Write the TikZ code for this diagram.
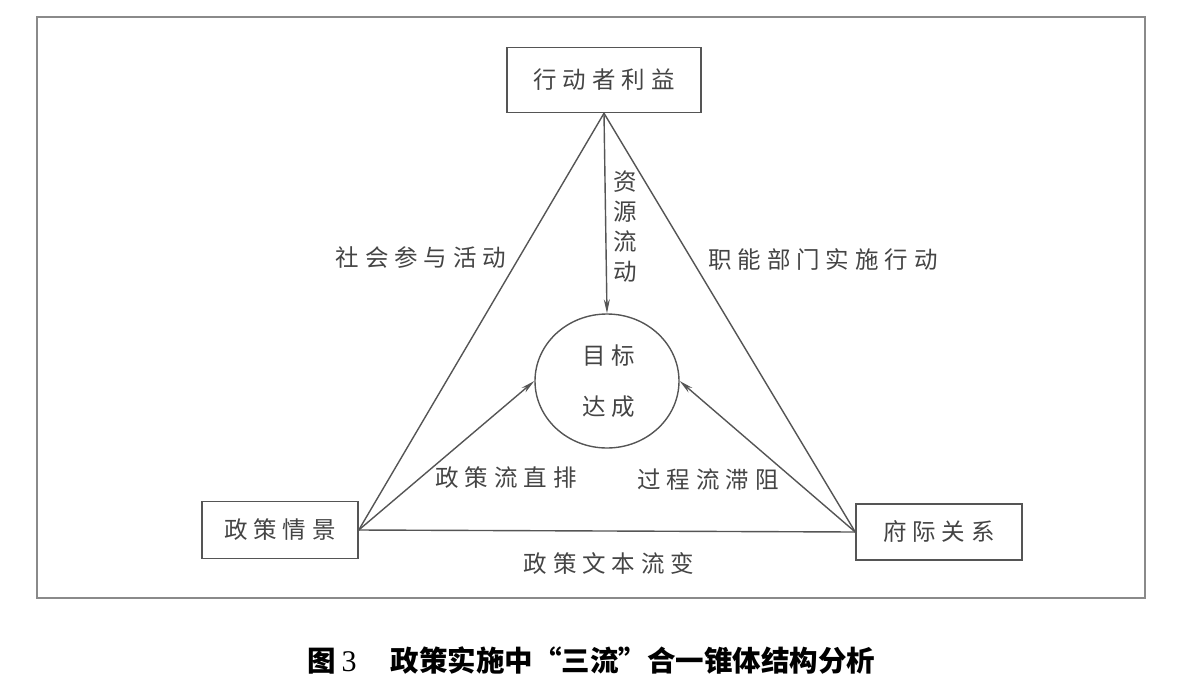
\documentclass[tikz,border=0pt]{standalone}
\usepackage{fontspec}
\usetikzlibrary{arrows.meta,shapes.geometric}
\newfontfamily\cjk{Noto Sans CJK SC}
\newfontfamily\capnum{Liberation Serif}
\definecolor{inkgray}{HTML}{444444}
\definecolor{linegray}{HTML}{555555}
\definecolor{framegray}{HTML}{8A8A8A}
\tikzset{
  lbl/.style={text=inkgray,font=\cjk\fontsize{23.5}{28}\selectfont\addfontfeature{LetterSpace=25},inner sep=0pt},
  boxnode/.style={draw=linegray,line width=1.5pt,fill=white,text=inkgray,font=\cjk\fontsize{23.5}{28}\selectfont\addfontfeature{LetterSpace=25},inner sep=0pt},
  conn/.style={draw=linegray,line width=1.4pt},
  arr/.style={conn,-{Stealth[length=14pt,width=6pt]}},
}
\begin{document}
\begin{tikzpicture}[x=1pt,y=-1pt]
\useasboundingbox (0,0) rectangle (1181,686);
\draw[framegray,line width=1.6pt] (37,17) rectangle (1145,598);
% nodes
\node[boxnode,minimum width=194pt,minimum height=65pt] (top) at (604,80) {行动者利益};
\node[boxnode,minimum width=156pt,minimum height=57pt] (left) at (280,530) {政策情景};
\node[boxnode,minimum width=166pt,minimum height=56pt] (right) at (939,532) {府际关系};
\node[draw=linegray,line width=1.4pt,ellipse,minimum width=144pt,minimum height=134pt,inner sep=0pt] (goal) at (607,381) {};
\node[lbl] (g1) at (609,356) {目标};
\node[lbl] (g2) at (609,407) {达成};
% connectors
\draw[conn] (top.south) -- (left.east);
\draw[conn] (top.south) -- (right.west);
\draw[conn] (left.east) -- (right.west);
\draw[arr] (top.south) -- (goal.north);
\draw[arr] (left.east) -- (goal.west);
\draw[arr] (right.west) -- (goal.east);
% labels
\node[lbl,align=center,font=\cjk\fontsize{23.5}{30}\selectfont] (res) at (625,227) {资\\源\\流\\动};
\node[lbl] (l1) at (421,258) {社会参与活动};
\node[lbl] (l2) at (823,260) {职能部门实施行动};
\node[lbl] (l3) at (506,478) {政策流直排};
\node[lbl] (l4) at (708,480) {过程流滞阻};
\node[lbl] (l5) at (609,563) {政策文本流变};
% caption
\node[inner sep=0pt,anchor=west,font=\cjk\bfseries\fontsize{28.5}{30}\selectfont] (cap) at (307,660) {图\hspace{6pt}{\capnum\mdseries\fontsize{30}{30}\selectfont 3}\hspace{34pt}政策实施中“三流”合一锥体结构分析};
\end{tikzpicture}
\end{document}
